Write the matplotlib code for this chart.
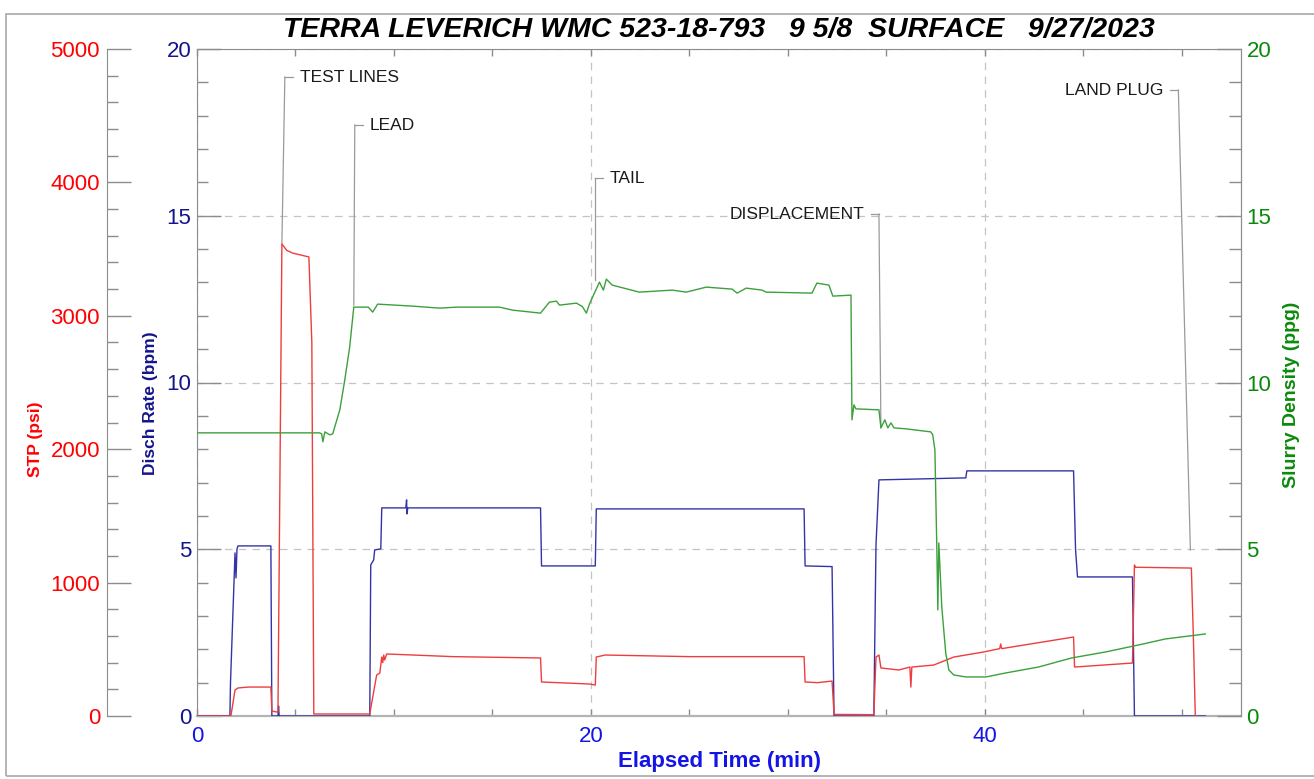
import numpy as np
import matplotlib.pyplot as plt
from matplotlib.ticker import MultipleLocator, FixedLocator
from matplotlib.patches import Rectangle

plt.rcParams['font.family'] = ['Liberation Sans', 'DejaVu Sans']

# discharge rate (bpm) vs elapsed time (min)
rate_t = [0, 1.67, 1.70, 1.93, 1.98, 2.03, 2.08, 3.75, 3.80, 4.11, 4.14, 4.17,
          8.77, 8.82, 8.97, 9.02, 9.33, 9.38, 10.60, 10.64, 10.66, 10.70,
          17.44, 17.49, 20.22, 20.27, 30.82, 30.87, 32.24, 32.34, 34.36, 34.47,
          34.62, 39.03, 39.08, 44.50, 44.60, 44.70, 47.49, 47.59, 51.19]
rate_v = [0, 0, 0.99, 4.89, 4.14, 5.01, 5.10, 5.10, 0, 0, 0.3, 0,
          0, 4.53, 4.68, 4.98, 5.01, 6.24, 6.24, 6.48, 6.06, 6.24,
          6.24, 4.50, 4.50, 6.21, 6.21, 4.50, 4.48, 0, 0, 5.13,
          7.08, 7.14, 7.35, 7.35, 5.0, 4.17, 4.17, 0, 0]

# surface treating pressure (psi)
stp_t = [0, 1.72, 1.85, 1.93, 2.08, 2.60, 3.75, 3.80, 4.05, 4.11, 4.31, 4.56,
         4.86, 5.68, 5.83, 5.93, 8.77, 9.12, 9.28, 9.38, 9.43, 9.48, 9.53,
         9.63, 13.0, 17.44, 17.49, 19.90, 20.22, 20.27, 20.72, 25.0, 30.82,
         30.87, 31.5, 32.24, 32.34, 34.36, 34.47, 34.62, 34.72, 35.63, 36.19,
         36.24, 36.29, 37.40, 38.42, 39.94, 40.75, 40.80, 40.85, 44.50, 44.55,
         47.49, 47.59, 47.64, 50.48, 50.58, 50.68]
stp_v = [0, 0, 120, 195, 210, 217, 217, 37, 30, 30, 3538, 3490,
         3470, 3441, 2796, 15, 15, 307, 322, 442, 400, 457, 420,
         465, 445, 435, 255, 240, 232, 442, 457, 445, 445,
         255, 250, 262, 12, 10, 442, 457, 360, 345, 367,
         217, 367, 382, 442, 480, 505, 540, 505, 592, 367,
         397, 1132, 1115, 1109, 600, 0]

# slurry density (ppg)
dens_t = [0, 6.23, 6.33, 6.39, 6.49, 6.74, 6.89, 7.25, 7.50, 7.75, 7.96, 8.51,
          8.70, 8.92, 9.17, 10.95, 12.32, 13.18, 15.36, 16.02, 17.44, 17.89,
          18.25, 18.40, 19.26, 19.56, 19.77, 19.92, 20.43, 20.63, 20.78, 21.08,
          22.45, 24.13, 24.84, 25.85, 27.17, 27.42, 27.88, 28.69, 28.89, 31.22,
          31.47, 32.08, 32.28, 33.20, 33.25, 33.35, 33.45, 34.62, 34.72, 34.92,
          35.07, 35.23, 35.38, 35.99, 37.25, 37.35, 37.46, 37.56, 37.61, 37.66,
          37.81, 38.01, 38.17, 38.42, 39.03, 40.04, 41.05, 42.73, 44.40, 46.12,
          47.80, 49.16, 51.19]
dens_v = [8.49, 8.49, 8.46, 8.22, 8.52, 8.43, 8.46, 9.18, 10.07, 11.06, 12.26, 12.26,
          12.26, 12.11, 12.35, 12.29, 12.23, 12.26, 12.26, 12.17, 12.08, 12.41,
          12.44, 12.32, 12.38, 12.28, 12.08, 12.35, 13.01, 12.77, 13.10, 12.92,
          12.71, 12.77, 12.71, 12.86, 12.80, 12.68, 12.83, 12.77, 12.71, 12.68,
          12.98, 12.92, 12.59, 12.62, 8.88, 9.33, 9.21, 9.18, 8.64, 8.88,
          8.64, 8.79, 8.64, 8.61, 8.52, 8.43, 7.98, 4.98, 3.18, 5.19,
          3.27, 1.89, 1.38, 1.23, 1.17, 1.17, 1.29, 1.47, 1.74, 1.92,
          2.13, 2.31, 2.46]

# event markers: label, leader corner (t, rate units), pointed location
ev_labels = ['TEST LINES', 'LEAD', 'TAIL', 'DISPLACEMENT', 'LAND PLUG']
ev_corner_t = [4.46, 8.01, 20.22, 34.62, 49.82]
ev_corner_y = [19.16, 17.72, 16.13, 15.05, 18.77]
ev_point_t = [4.31, 7.96, 20.22, 34.72, 50.43]
ev_point_y = [14.15, 12.32, 13.07, 8.64, 4.98]
ev_side = [1, 1, 1, -1, -1]   # text right (+1) or left (-1) of leader

red = '#ff0000'
navy = '#14148c'
xblue = '#1414e6'
green = '#0a8a0a'
gray = '#8c8c8c'

fig = plt.figure(figsize=(13.14, 7.79), dpi=100)
fig.patches.append(Rectangle((6/1314, 3/779), 1.1, 1 - 17/779, transform=fig.transFigure,
                             fill=False, edgecolor='#a8a8a8', linewidth=1.2))

ax = fig.add_axes([197/1314, 1 - 716/779, 1044/1314, 667/779])
ax_p = ax.twinx()
ax_d = ax.twinx()

# rate (main axes)
ax.plot(rate_t, rate_v, color='#3434a6', lw=1.0, zorder=3)
ax.set_xlim(0, 53)
ax.set_ylim(0, 20)
ax.xaxis.set_major_locator(FixedLocator([0, 20, 40]))
ax.xaxis.set_minor_locator(MultipleLocator(5))
ax.yaxis.set_major_locator(MultipleLocator(5))
ax.yaxis.set_minor_locator(MultipleLocator(1))
ax.grid(True, which='major', color='#c4c4c4', linestyle=(0, (6, 5)), linewidth=0.9)
ax.tick_params(axis='y', which='major', direction='in', length=17, width=1,
               color=gray, labelcolor=navy, labelsize=16, pad=4)
ax.tick_params(axis='y', which='minor', direction='in', length=8, width=1, color=gray)
ax.tick_params(axis='x', which='both', direction='in', length=5, width=1, top=True,
               color=gray, labelcolor=xblue, labelsize=16, pad=7)
for s in ax.spines.values():
    s.set_color(gray)
ax.spines['bottom'].set_color('#b4b4b4')
ax.spines['bottom'].set_linewidth(1.6)
ax.set_ylabel('Disch Rate (bpm)', color=navy, fontweight='bold', fontsize=12.5, va='center')
ax.yaxis.set_label_coords(-0.045, 0.469)
ax.set_xlabel('Elapsed Time (min)', color=xblue, fontweight='bold', fontsize=16, va='center')
ax.xaxis.set_label_coords(0.5, -0.068)

# event leaders
for lab, ct, cy, pt, py, sd in zip(ev_labels, ev_corner_t, ev_corner_y,
                                   ev_point_t, ev_point_y, ev_side):
    ax.plot([ct, pt], [cy, py], color='#9a9a9a', lw=0.9, zorder=2)
    ax.plot([ct, ct + sd * 0.4], [cy, cy], color='#9a9a9a', lw=0.9, zorder=2)
    ax.text(ct + sd * 0.75, cy, lab, fontsize=12.5, color='#1a1a1a',
            ha='left' if sd > 0 else 'right', va='center')

# pressure (offset left axis)
ax_p.plot(stp_t, stp_v, color='#f03c3c', lw=1.0)
ax_p.set_ylim(0, 5000)
ax_p.yaxis.set_major_locator(MultipleLocator(1000))
ax_p.yaxis.set_minor_locator(MultipleLocator(200))
ax_p.yaxis.tick_left()
ax_p.yaxis.set_label_position('left')
ax_p.spines['left'].set_position(('axes', -90/1044))
for k in ['right', 'top', 'bottom']:
    ax_p.spines[k].set_visible(False)
ax_p.spines['left'].set_visible(True)
ax_p.spines['left'].set_color(gray)
ax_p.tick_params(axis='y', which='major', direction='in', length=17, width=1,
                 color=gray, labelcolor=red, labelsize=16, pad=5)
ax_p.tick_params(axis='y', which='minor', direction='in', length=8, width=1, color=gray)
ax_p.set_ylabel('STP (psi)', color=red, fontweight='bold', fontsize=12.5, va='center')
ax_p.yaxis.set_label_coords(-0.155, 0.415)

# density (right axis)
ax_d.plot(dens_t, dens_v, color='#3ca03c', lw=1.0)
ax_d.set_ylim(0, 20)
ax_d.yaxis.set_major_locator(MultipleLocator(5))
ax_d.yaxis.set_minor_locator(MultipleLocator(1))
for k in ['left', 'top', 'bottom']:
    ax_d.spines[k].set_visible(False)
ax_d.spines['right'].set_color(gray)
ax_d.tick_params(axis='y', which='major', direction='in', length=17, width=1,
                 color=gray, labelcolor=green, labelsize=16, pad=4)
ax_d.tick_params(axis='y', which='minor', direction='in', length=9, width=1, color=gray)
ax_d.set_ylabel('Slurry Density (ppg)', color=green, fontweight='bold', fontsize=14,
                va='center', rotation=90)
ax_d.yaxis.set_label_coords(1.048, 0.481)

fig.text((197 + 1241) / 2 / 1314, 1 - 30/779,
         'TERRA LEVERICH WMC 523-18-793   9 5/8  SURFACE   9/27/2023',
         ha='center', va='center', fontsize=20.5, fontweight='bold', style='italic')

fig.savefig('out.png', dpi=100)
